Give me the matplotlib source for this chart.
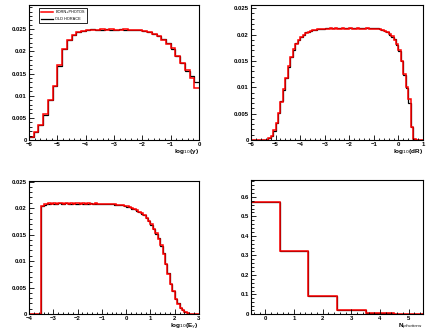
import numpy as np
import matplotlib
matplotlib.use('Agg')
import matplotlib.pyplot as plt
from matplotlib.ticker import AutoMinorLocator, MultipleLocator

plt.rcParams['font.family'] = ['Liberation Sans', 'DejaVu Sans']

# log10(y): 36 bins from -6 to 0
y_range = (-6, 0)
y_red = [0.0006, 0.0018, 0.0034, 0.0058, 0.0090, 0.0122, 0.0169, 0.0205,
         0.0226, 0.0237, 0.0244, 0.0247, 0.0248, 0.0249, 0.0249, 0.0250,
         0.0249, 0.0250, 0.0249, 0.0249, 0.0250, 0.0249, 0.0249, 0.0248,
         0.0246, 0.0243, 0.0239, 0.0235, 0.0227, 0.0218, 0.0207, 0.0189,
         0.0174, 0.0158, 0.0139, 0.0117]
y_black = [0.0006, 0.0017, 0.0034, 0.0057, 0.0091, 0.0121, 0.0168, 0.0206,
           0.0225, 0.0238, 0.0245, 0.0247, 0.0248, 0.0250, 0.0249, 0.0249,
           0.0250, 0.0249, 0.0249, 0.0250, 0.0249, 0.0249, 0.0248, 0.0248,
           0.0246, 0.0244, 0.0240, 0.0234, 0.0228, 0.0219, 0.0206, 0.0190,
           0.0175, 0.0157, 0.0145, 0.0132]

# log10(dR): 70 bins from -6 to 1
dr_range = (-6, 1)
dr_red = [0, 0, 0, 0, 0, 0, 0.00005, 0.0003, 0.0008, 0.0019,
          0.0032, 0.0052, 0.0073, 0.0096, 0.0117, 0.0140, 0.0157, 0.0172, 0.0182, 0.0190,
          0.0196, 0.0200, 0.0203, 0.0205, 0.0207, 0.0208, 0.0209, 0.0210, 0.0210, 0.0211,
          0.0211, 0.0211, 0.0212, 0.0211, 0.0212, 0.0211, 0.0211, 0.0212, 0.0211, 0.0211,
          0.0212, 0.0211, 0.0211, 0.0212, 0.0211, 0.0211, 0.0211, 0.0212, 0.0211, 0.0211,
          0.0211, 0.0211, 0.0210, 0.0209, 0.0207, 0.0204, 0.0201, 0.0197, 0.0190, 0.0182,
          0.0170, 0.0149, 0.0126, 0.0101, 0.0078, 0.0024, 0.0002, 0, 0, 0]
dr_black = [0, 0, 0, 0, 0, 0, 0.00005, 0.0003, 0.0008, 0.0018,
            0.0033, 0.0051, 0.0074, 0.0095, 0.0118, 0.0139, 0.0158, 0.0171, 0.0183, 0.0190,
            0.0195, 0.0200, 0.0204, 0.0205, 0.0207, 0.0209, 0.0209, 0.0210, 0.0211, 0.0211,
            0.0212, 0.0212, 0.0213, 0.0212, 0.0213, 0.0212, 0.0212, 0.0213, 0.0212, 0.0213,
            0.0213, 0.0212, 0.0212, 0.0213, 0.0212, 0.0212, 0.0212, 0.0213, 0.0212, 0.0212,
            0.0212, 0.0212, 0.0211, 0.0209, 0.0206, 0.0205, 0.0200, 0.0196, 0.0191, 0.0181,
            0.0168, 0.0150, 0.0124, 0.0098, 0.0070, 0.0025, 0.0002, 0, 0, 0]

# log10(E_gamma): 70 bins from -4 to 3
e_range = (-4, 3)
e_red = [0, 0, 0, 0, 0, 0.0204, 0.0207, 0.0208, 0.0209, 0.0208,
         0.0209, 0.0208, 0.0209, 0.0209, 0.0208, 0.0209, 0.0208, 0.0209, 0.0208, 0.0209,
         0.0209, 0.0208, 0.0209, 0.0208, 0.0209, 0.0208, 0.0208, 0.0209, 0.0208, 0.0208,
         0.0208, 0.0208, 0.0208, 0.0208, 0.0207, 0.0207, 0.0206, 0.0206, 0.0205, 0.0204,
         0.0203, 0.0202, 0.0200, 0.0198, 0.0196, 0.0193, 0.0190, 0.0186, 0.0182, 0.0176,
         0.0169, 0.0161, 0.0152, 0.0142, 0.0130, 0.0114, 0.0095, 0.0076, 0.0057, 0.0043,
         0.0029, 0.0019, 0.0011, 0.0007, 0.0004, 0.0001, 0.00003, 0, 0, 0]
e_black = [0, 0, 0, 0, 0, 0.0203, 0.0206, 0.0208, 0.0208, 0.0209,
           0.0208, 0.0208, 0.0209, 0.0208, 0.0208, 0.0209, 0.0208, 0.0208, 0.0209, 0.0208,
           0.0208, 0.0209, 0.0208, 0.0208, 0.0208, 0.0209, 0.0208, 0.0208, 0.0208, 0.0208,
           0.0208, 0.0207, 0.0208, 0.0207, 0.0207, 0.0206, 0.0206, 0.0205, 0.0205, 0.0204,
           0.0202, 0.0202, 0.0199, 0.0198, 0.0195, 0.0193, 0.0189, 0.0186, 0.0181, 0.0176,
           0.0168, 0.0161, 0.0151, 0.0143, 0.0129, 0.0115, 0.0094, 0.0077, 0.0056, 0.0044,
           0.0028, 0.0020, 0.0011, 0.0007, 0.0003, 0.0001, 0.00003, 0, 0, 0]

# number of photons: 6 bins centred on 0..5
n_range = (-0.5, 5.5)
n_red = [0.571, 0.324, 0.092, 0.018, 0.004, 0.0008]
n_black = [0.571, 0.324, 0.092, 0.018, 0.004, 0.0008]

legend_labels = ['BORN+PHOTOS', 'OLD HORACE']

W, H = 436, 336
fig = plt.figure(figsize=(W / 100, H / 100), dpi=100)


def add_axes(x0, y0, x1, y1):
    # pixel box (top-left origin) -> figure fraction
    return fig.add_axes([x0 / W, 1 - y1 / H, (x1 - x0) / W, (y1 - y0) / H])


panels = [
    (add_axes(29, 5, 199, 140), y_range, y_red, y_black, 0.0305, 0.005, 0.025, 'log$_{10}$(y)'),
    (add_axes(251, 5, 423, 140), dr_range, dr_red, dr_black, 0.0256, 0.005, 0.025, 'log$_{10}$(dR)'),
    (add_axes(29, 181, 199, 314), e_range, e_red, e_black, 0.0251, 0.005, 0.025, 'log$_{10}$(E$_{\\gamma}$)'),
    (add_axes(251, 180, 423, 314), n_range, n_red, n_black, 0.686, 0.1, 0.6, 'N$_{photons}$'),
]

fs = 4.3
for ax, rng, red, black, ytop, ystep, ymaxtick, xlabel in panels:
    edges = np.linspace(rng[0], rng[1], len(red) + 1)
    ax.stairs(black, edges, color='black', linewidth=0.9, baseline=None)
    ax.stairs(red, edges, color='#ff0000', linewidth=1.1, baseline=None)
    ax.set_xlim(*rng)
    ax.set_ylim(0, ytop)
    ax.xaxis.set_major_locator(MultipleLocator(1))
    ax.set_yticks(np.arange(0, ymaxtick + ystep / 2, ystep))
    ax.xaxis.set_minor_locator(AutoMinorLocator(5))
    ax.yaxis.set_minor_locator(AutoMinorLocator(5))
    ax.tick_params(which='both', direction='in', top=False, right=False,
                   labelsize=fs, pad=1.5, width=0.6)
    ax.tick_params(which='major', length=3.5)
    ax.tick_params(which='minor', length=1.8)
    ax.yaxis.set_major_formatter(matplotlib.ticker.FuncFormatter(
        lambda v, p: ('%g' % round(v, 6))))
    for lab in ax.get_xticklabels() + ax.get_yticklabels():
        lab.set_fontweight('bold')
    for s in ax.spines.values():
        s.set_linewidth(0.8)
    ax.text(1.0, -0.055, xlabel, transform=ax.transAxes, ha='right', va='top',
            fontsize=fs + 0.3, fontweight='bold')

ax0 = panels[0][0]
leg = ax0.legend([plt.Line2D([], [], color='#ff0000', lw=1.1),
                  plt.Line2D([], [], color='black', lw=0.9)],
                 legend_labels, loc='upper left', bbox_to_anchor=(0.05, 0.99),
                 fontsize=2.8, frameon=True, fancybox=False, edgecolor='black',
                 framealpha=1, handlelength=3, borderpad=0.5, labelspacing=0.8,
                 handletextpad=0.6)
leg.get_frame().set_linewidth(0.6)

fig.savefig('out.png', dpi=100)
